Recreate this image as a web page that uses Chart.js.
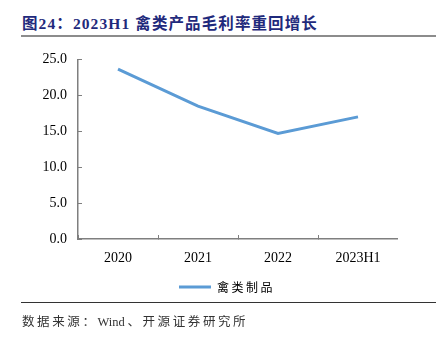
<!DOCTYPE html>
<html>
<head>
<meta charset="utf-8">
<script src="https://cdn.jsdelivr.net/npm/chart.js@4"></script>
<style>
    body { margin: 0; width: 436px; height: 347px; background: #fff; position: relative; overflow: hidden; }
    #title { position: absolute; left: 22px; top: 11px; font: bold 15.5px "Liberation Serif", "Noto Sans CJK SC", serif; letter-spacing: 1.1px; color: #1f2a7c; white-space: nowrap; }
    #topLine { position: absolute; left: 21px; right: 0; top: 35px; height: 2px; background: #8c8c8c; }
    #bottomLine { position: absolute; left: 21px; right: 0; top: 302px; height: 1px; background: #333; }
    #source { position: absolute; left: 22px; top: 311px; font: 12.5px "Liberation Serif", "Noto Sans CJK SC", serif; letter-spacing: 2.6px; color: #333; white-space: nowrap; }
    #source span { letter-spacing: 0; margin-right: 2.6px; }
    #wrap { position: absolute; left: 0; top: 36px; width: 398px; height: 274px; }
</style>
</head>
<body>
<div id="title">图24：2023H1 禽类产品毛利率重回增长</div>
<div id="topLine"></div>
<div id="wrap"><canvas id="myChart"></canvas></div>
<div id="bottomLine"></div>
<div id="source">数据来源：<span>Wind</span>、开源证券研究所</div>
<script>
const categories = ['2020', '2021', '2022', '2023H1'];
const seriesName = '禽类制品';
const grossMargin = [23.65, 18.5, 14.7, 17.0];
const yTicks = [0, 5, 10, 15, 20, 25];

const labelFont = { family: '"Liberation Serif", "Times New Roman", serif', size: 14 };

// legend text is spaced out in the reference
const legendSpacing = {
    id: 'legendSpacing',
    afterInit(chart) {
        const lg = chart.legend;
        const orig = lg.draw.bind(lg);
        lg.draw = function (area) {
            chart.ctx.save();
            chart.ctx.letterSpacing = '2.5px';
            orig(area);
            chart.ctx.restore();
        };
    }
};

let chart;
function createChart() {
    const ctx = document.getElementById('myChart').getContext('2d');
    chart = new Chart(ctx, {
        type: 'line',
        data: {
            labels: categories,
            datasets: [{
                label: seriesName,
                data: grossMargin,
                borderColor: '#5b9bd5',
                backgroundColor: '#5b9bd5',
                borderWidth: 3,
                pointRadius: 0,
                tension: 0
            }]
        },
        options: {
            responsive: true,
            maintainAspectRatio: false,
            animation: false,
            layout: { padding: { left: 46, right: 0, top: 13.1, bottom: 7 } },
            scales: {
                x: {
                    offset: true,
                    grid: { offset: true, drawOnChartArea: false, tickLength: -4, color: '#7f7f7f', lineWidth: 1 },
                    border: { color: '#7f7f7f', width: 1.5 },
                    ticks: { font: labelFont, color: '#000', padding: 14.5, maxRotation: 0 },
                    afterFit(scale) { scale.height = 32; }
                },
                y: {
                    min: 0,
                    max: 25,
                    afterBuildTicks(scale) { scale.ticks = yTicks.map(v => ({ value: v })); },
                    grid: { drawOnChartArea: false, tickLength: -4, color: '#7f7f7f', lineWidth: 1 },
                    border: { color: '#7f7f7f', width: 1.5 },
                    ticks: { font: labelFont, color: '#000', padding: 15, callback: v => Number(v).toFixed(1) },
                    afterFit(scale) {
                        scale.width = 32;
                        // labels reach past the narrow box, don't clip them
                        scale._computeLabelArea = () => undefined;
                    }
                }
            },
            plugins: {
                legend: {
                    position: 'bottom',
                    labels: {
                        usePointStyle: true,
                        pointStyle: 'line',
                        pointStyleWidth: 32,
                        boxHeight: 12,
                        padding: 10,
                        color: '#000',
                        font: { family: '"Noto Sans CJK SC", sans-serif', size: 12 }
                    }
                },
                tooltip: { enabled: false }
            }
        },
        plugins: [legendSpacing]
    });
}

document.addEventListener('DOMContentLoaded', function () {
    createChart();
});
</script>
</body>
</html>
